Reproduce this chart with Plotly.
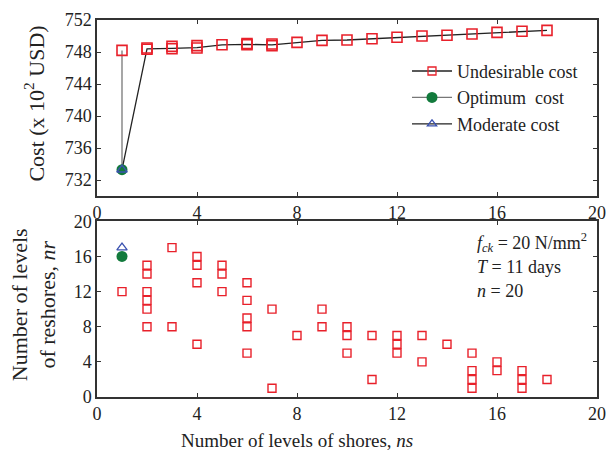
import plotly.graph_objects as go
from plotly.subplots import make_subplots

# ---------------- data ----------------
# Top panel: cost vs number of levels of shores
line_ns = [1, 1, 2, 3, 4, 5, 6, 7, 8, 9, 10, 11, 12, 13, 14, 15, 16, 17, 18]
line_cost = [748.2, 733.3, 748.4, 748.45, 748.55, 748.9, 748.95, 748.9, 749.2, 749.45,
             749.5, 749.65, 749.85, 750.0, 750.1, 750.25, 750.45, 750.6, 750.7]

undes_top_ns = [1, 2, 2, 3, 3, 4, 4, 5, 6, 6, 7, 7, 8, 9, 10, 11, 12, 13, 14, 15, 16, 17, 18]
undes_top_cost = [748.2, 748.5, 748.35, 748.7, 748.4, 748.8, 748.5, 748.9, 749.05, 748.9,
                  749.0, 748.8, 749.2, 749.45, 749.5, 749.65, 749.85, 750.0, 750.1,
                  750.25, 750.45, 750.6, 750.7]
opt_top_ns = [1]
opt_top_cost = [733.3]
mod_top_ns = [1]
mod_top_cost = [733.3]

# Bottom panel: reshores vs shores
undes_ns = [1, 2, 2, 2, 2, 2, 2, 3, 3, 4, 4, 4, 4, 5, 5, 5, 6, 6, 6, 6, 6, 7, 7, 8,
            9, 9, 10, 10, 10, 11, 11, 12, 12, 12, 13, 13, 14, 15, 15, 15, 15, 16, 16,
            17, 17, 17, 18]
undes_nr = [12, 15, 14, 12, 11, 10, 8, 17, 8, 16, 15, 13, 6, 15, 14, 12, 13, 11, 9, 8, 5,
            10, 1, 7, 10, 8, 8, 7, 5, 7, 2, 7, 6, 5, 7, 4, 6, 5, 3, 2, 1, 4, 3, 3, 2, 1, 2]
opt_ns = [1]
opt_nr = [16]
mod_ns = [1]
mod_nr = [17]

tick_vals_x = [0, 4, 8, 12, 16, 20]
tick_vals_top_y = [732, 736, 740, 744, 748, 752]
tick_vals_bot_y = [0, 4, 8, 12, 16, 20]

legend_names = ["Undesirable cost", "Optimum  cost", "Moderate cost"]

# ---------------- style ----------------
RED = "#e8202a"
GREEN = "#127a3c"
BLUE = "#3b52b0"
FONT = "Liberation Serif"
AXC = "#333333"

fig = make_subplots(rows=2, cols=1, vertical_spacing=0.0)

# top panel lines
fig.add_trace(go.Scatter(x=line_ns[:2], y=line_cost[:2], mode="lines",
                         line=dict(color="#777777", width=1.3), showlegend=False), 1, 1)
fig.add_trace(go.Scatter(x=line_ns[1:], y=line_cost[1:], mode="lines",
                         line=dict(color="#222222", width=1.3), showlegend=False), 1, 1)
# top panel markers
fig.add_trace(go.Scatter(x=undes_top_ns, y=undes_top_cost, mode="markers",
                         marker=dict(symbol="square-open", size=10, color=RED,
                                     line=dict(width=1.6)), showlegend=False), 1, 1)
fig.add_trace(go.Scatter(x=opt_top_ns, y=opt_top_cost, mode="markers",
                         marker=dict(symbol="circle", size=11, color=GREEN), showlegend=False), 1, 1)
fig.add_trace(go.Scatter(x=mod_top_ns, y=mod_top_cost, mode="markers",
                         marker=dict(symbol="triangle-up-open", size=9, color=BLUE,
                                     line=dict(width=1.5)), showlegend=False), 1, 1)

# legend entries
fig.add_trace(go.Scatter(x=[None], y=[None], mode="lines+markers", name=legend_names[0],
                         line=dict(color="#222222", width=1.3),
                         marker=dict(symbol="square-open", size=8, color=RED, line=dict(width=1.3))), 1, 1)
fig.add_trace(go.Scatter(x=[None], y=[None], mode="lines+markers", name=legend_names[1],
                         line=dict(color="#777777", width=1.3),
                         marker=dict(symbol="circle", size=11, color=GREEN)), 1, 1)
fig.add_trace(go.Scatter(x=[None], y=[None], mode="lines+markers", name=legend_names[2],
                         line=dict(color="#222222", width=1.3),
                         marker=dict(symbol="triangle-up-open", size=8, color=BLUE, line=dict(width=1.3))), 1, 1)

# bottom panel
fig.add_trace(go.Scatter(x=undes_ns, y=undes_nr, mode="markers",
                         marker=dict(symbol="square-open", size=8, color=RED,
                                     line=dict(width=1.4)), showlegend=False), 2, 1)
fig.add_trace(go.Scatter(x=opt_ns, y=opt_nr, mode="markers",
                         marker=dict(symbol="circle", size=11, color=GREEN), showlegend=False), 2, 1)
fig.add_trace(go.Scatter(x=mod_ns, y=mod_nr, mode="markers",
                         marker=dict(symbol="triangle-up-open", size=9, color=BLUE,
                                     line=dict(width=1.3)), showlegend=False), 2, 1)

axis_common = dict(showline=True, linecolor=AXC, linewidth=1.5, mirror="ticks",
                   ticks="inside", ticklen=4, tickcolor=AXC, showgrid=False, zeroline=False,
                   automargin=False,
                   tickfont=dict(family=FONT, size=18, color="#222222"))

fig.update_xaxes(range=[0, 20], tickvals=tick_vals_x, **axis_common)
fig.update_yaxes(**axis_common)
fig.update_yaxes(range=[730, 752], tickvals=tick_vals_top_y, row=1, col=1)
fig.update_yaxes(range=[0, 20], tickvals=tick_vals_bot_y, row=2, col=1)

fig.update_layout(
    template="none",
    width=606, height=458,
    margin=dict(l=97, r=9, t=20, b=61, autoexpand=False),
    paper_bgcolor="white", plot_bgcolor="white",
    font=dict(family=FONT, size=18, color="#222222"),
    legend=dict(x=0.62, y=0.913, xanchor="left", yanchor="top", bgcolor="rgba(0,0,0,0)",
                font=dict(family=FONT, size=18, color="#222222"), tracegroupgap=0,
                itemwidth=40),
    yaxis=dict(domain=[0.533, 1.0]),
    yaxis2=dict(domain=[0.0, 0.466]),
)

ann = [
    dict(text="Cost (x 10<sup>2</sup> USD)", x=-0.125, y=0.777, textangle=-90, size=22),
    dict(text="Number of levels<br>of reshores, <i>nr</i>", x=-0.127, y=0.245, textangle=-90, size=22),
    dict(text="Number of levels of shores, <i>ns</i>", x=0.40, y=-0.115, textangle=0, size=19),
]
for a in ann:
    sz = a.pop("size")
    fig.add_annotation(xref="paper", yref="paper", showarrow=False,
                       xanchor="center", yanchor="middle",
                       font=dict(family=FONT, size=sz, color="#222222"), **a)

info = ["<i>f</i><sub><i>ck</i></sub> = 20 N/mm<sup>2</sup>", "<i>T</i> = 11 days", "<i>n</i> = 20"]
info_y = [0.41, 0.345, 0.28]
for t, yy in zip(info, info_y):
    fig.add_annotation(xref="paper", yref="paper", x=0.755, y=yy, text=t, showarrow=False,
                       xanchor="left", yanchor="middle",
                       font=dict(family=FONT, size=18, color="#222222"))

fig.write_html("out.html")
